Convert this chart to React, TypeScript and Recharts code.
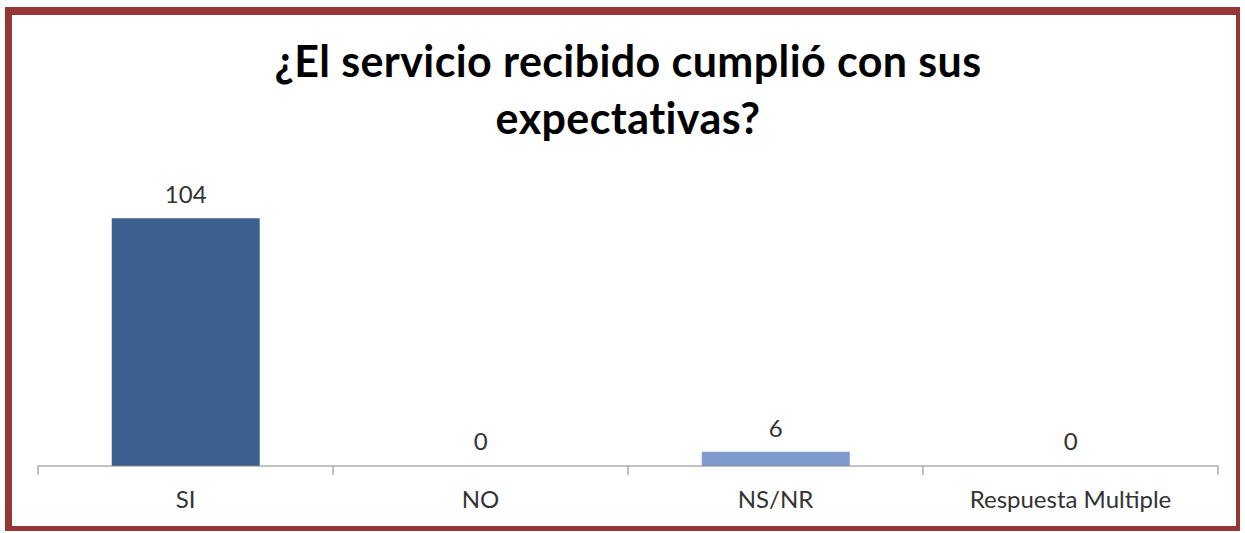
import React from "react";
import { BarChart, Bar, XAxis, YAxis, Cell, LabelList } from "recharts";

const categories = ["SI", "NO", "NS/NR", "Respuesta Multiple"];
const respuestas = [104, 0, 6, 0];
const barColors = ["#3C6190", "#3C6190", "#7F9BCD", "#3C6190"];

const data = categories.map((name, i) => ({ name, value: respuestas[i] }));

const W = 1245;
const H = 533;
const PLOT_LEFT = 38;
const PLOT_RIGHT = 27;
const BAND = (W - PLOT_LEFT - PLOT_RIGHT) / categories.length;

const FONT = "Lato, 'Open Sans', sans-serif";

// ticks sit between categories like Excel does
const CategoryTick = (props: any) => {
	const { x, y, payload, index } = props;
	const left = x - BAND / 2;
	return (
		<g>
			<line x1={left} y1={y - 8} x2={left} y2={y + 1} stroke="#868686" />
			{index === categories.length - 1 && (
				<line x1={left + BAND} y1={y - 8} x2={left + BAND} y2={y + 1} stroke="#868686" />
			)}
			<text
				x={x}
				y={y + 34}
				textAnchor="middle"
				fontSize={24}
				fontFamily={FONT}
				fill="#333"
			>
				{payload.value}
			</text>
		</g>
	);
};

export default function App() {
	return (
		<div style={{ position: "absolute", left: 0, top: 0, width: W, height: H, background: "#fff", fontFamily: FONT }}>
			<div
				style={{
					position: "absolute",
					left: 5,
					top: 7,
					width: 1240 - 5,
					height: 531 - 7,
					boxSizing: "border-box",
					borderLeft: "7px solid #943634",
					borderTop: "8px solid #943634",
					borderRight: "4px solid #943634",
					borderBottom: "5px solid #943634",
				}}
			/>
			<div
				style={{
					position: "absolute",
					left: 0,
					top: 32,
					width: 1256,
					textAlign: "center",
					fontSize: 43,
					fontWeight: 700,
					letterSpacing: 0.4,
					lineHeight: "57px",
					color: "#000",
				}}
			>
				¿El servicio recibido cumplió con sus
				<br />
				expectativas?
			</div>
			<div style={{ position: "absolute", left: 0, top: 0 }}>
				<BarChart
					width={W}
					height={H}
					data={data}
					margin={{ top: 180, right: PLOT_RIGHT, bottom: 27, left: PLOT_LEFT }}
					barCategoryGap="25%"
				>
					<XAxis
						dataKey="name"
						height={40}
						axisLine={{ stroke: "#868686" }}
						tickLine={false}
						tick={<CategoryTick />}
						interval={0}
					/>
					<YAxis hide domain={[0, 120]} />
					<Bar dataKey="value" minPointSize={1} isAnimationActive={false}>
						{data.map((d, i) => (
							<Cell key={d.name} fill={d.value === 0 ? "transparent" : barColors[i]} />
						))}
						<LabelList
							dataKey="value"
							position="top"
							offset={15}
							fontSize={24}
							fontFamily={FONT}
							fill="#333"
						/>
					</Bar>
				</BarChart>
			</div>
		</div>
	);
}
